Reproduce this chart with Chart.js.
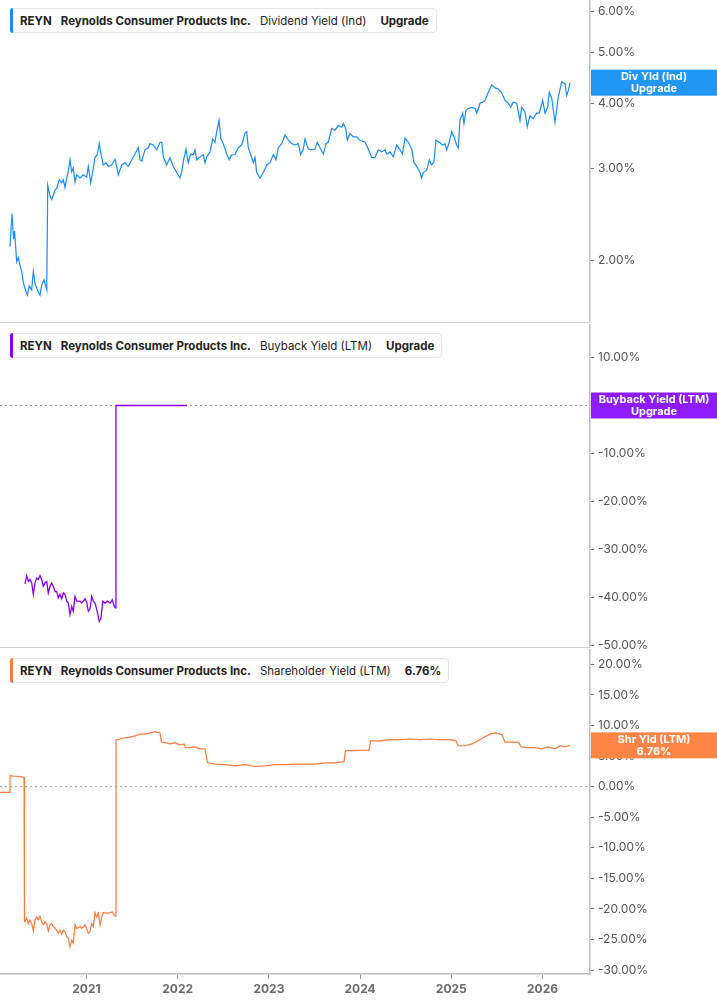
<!DOCTYPE html>
<html>
<head>
<meta charset="utf-8">
<script src="https://cdn.jsdelivr.net/npm/chart.js@4.4.1/dist/chart.umd.min.js"></script>
<style>
html, body { margin: 0; padding: 0; background: #fff; }
body { width: 717px; height: 1005px; position: relative; overflow: hidden; font-family: Inter, "Liberation Sans", sans-serif; }
canvas { position: absolute; left: 0; }
.legend { position: absolute; left: 10px; height: 25px; box-sizing: border-box; border: 1px solid #e6e6e6; border-radius: 4px; background: #fff;
  display: flex; align-items: center; padding: 0 7px 0 9px; font-size: 11.5px; color: #222; white-space: nowrap; z-index: 2; }
.legend .bar { position: absolute; left: -1px; top: -1px; bottom: -1px; width: 3px; border-radius: 3px 0 0 3px; }
.legend .b { font-weight: 700; }
.legend .gap { margin-left: 9px; }
.legend .gap2 { margin-left: 14px; }
</style>
</head>
<body>

<div class="legend" style="top:8px"><div class="bar" style="background:#1a8cff"></div>
  <span class="b">REYN</span><span class="b gap">Reynolds Consumer Products Inc.</span><span class="gap">Dividend Yield (Ind)</span><span class="b gap2">Upgrade</span></div>
<div class="legend" style="top:333px"><div class="bar" style="background:#8800ff"></div>
  <span class="b">REYN</span><span class="b gap">Reynolds Consumer Products Inc.</span><span class="gap">Buyback Yield (LTM)</span><span class="b gap2">Upgrade</span></div>
<div class="legend" style="top:658px"><div class="bar" style="background:#ff7a3d"></div>
  <span class="b">REYN</span><span class="b gap">Reynolds Consumer Products Inc.</span><span class="gap">Shareholder Yield (LTM)</span><span class="b gap2">6.76%</span></div>

<canvas id="divChart" width="717" height="344" style="top:-10px"></canvas>
<canvas id="buyChart" width="717" height="345" style="top:314px"></canvas>
<canvas id="shrChart" width="717" height="366" style="top:639px"></canvas>

<script>
// x values are decimal years
const yearTicks = [2021, 2022, 2023, 2024, 2025, 2026];
const divTicks = [2, 3, 4, 5, 6];
const buyTicks = [10, 0, -10, -20, -30, -40, -50];
const shrTicks = [20, 15, 10, 5, 0, -5, -10, -15, -20, -25, -30];

// Dividend Yield (Ind), %
const divYears = [
  2020.161, 2020.183, 2020.200, 2020.211, 2020.235, 2020.252, 2020.271, 2020.289, 2020.307, 2020.326,
  2020.351, 2020.373, 2020.399, 2020.417, 2020.435, 2020.461, 2020.490, 2020.509, 2020.534, 2020.564,
  2020.575, 2020.600, 2020.618, 2020.636, 2020.655, 2020.673, 2020.702, 2020.728, 2020.746, 2020.764,
  2020.783, 2020.800, 2020.819, 2020.838, 2020.855, 2020.874, 2020.893, 2020.929, 2020.965, 2021.002,
  2021.020, 2021.046, 2021.068, 2021.093, 2021.118, 2021.140, 2021.159, 2021.184, 2021.214, 2021.239,
  2021.276, 2021.313, 2021.349, 2021.386, 2021.422, 2021.458, 2021.496, 2021.532, 2021.568, 2021.587,
  2021.605, 2021.641, 2021.678, 2021.696, 2021.732, 2021.770, 2021.806, 2021.825, 2021.842, 2021.879,
  2021.916, 2021.952, 2021.989, 2022.025, 2022.044, 2022.061, 2022.091, 2022.116, 2022.143, 2022.171,
  2022.190, 2022.208, 2022.245, 2022.281, 2022.299, 2022.318, 2022.354, 2022.384, 2022.409, 2022.428,
  2022.453, 2022.472, 2022.500, 2022.537, 2022.566, 2022.592, 2022.628, 2022.664, 2022.702, 2022.738,
  2022.757, 2022.774, 2022.800, 2022.829, 2022.848, 2022.866, 2022.902, 2022.939, 2022.976, 2023.012,
  2023.048, 2023.078, 2023.103, 2023.140, 2023.177, 2023.213, 2023.250, 2023.286, 2023.322, 2023.349,
  2023.377, 2023.396, 2023.432, 2023.469, 2023.506, 2023.531, 2023.560, 2023.597, 2023.626, 2023.651,
  2023.689, 2023.725, 2023.761, 2023.798, 2023.816, 2023.842, 2023.860, 2023.889, 2023.925, 2023.963,
  2023.999, 2024.054, 2024.090, 2024.127, 2024.163, 2024.200, 2024.237, 2024.273, 2024.292, 2024.328,
  2024.364, 2024.401, 2024.438, 2024.463, 2024.492, 2024.529, 2024.566, 2024.591, 2024.621, 2024.657,
  2024.675, 2024.693, 2024.730, 2024.759, 2024.785, 2024.810, 2024.832, 2024.868, 2024.906, 2024.931,
  2024.950, 2024.978, 2025.004, 2025.030, 2025.059, 2025.077, 2025.095, 2025.125, 2025.139, 2025.161,
  2025.186, 2025.224, 2025.260, 2025.279, 2025.315, 2025.344, 2025.370, 2025.406, 2025.443, 2025.479,
  2025.516, 2025.553, 2025.589, 2025.625, 2025.651, 2025.680, 2025.717, 2025.753, 2025.772, 2025.808,
  2025.833, 2025.863, 2025.899, 2025.936, 2025.965, 2026.002, 2026.028, 2026.057, 2026.075, 2026.101,
  2026.137, 2026.173, 2026.211, 2026.247, 2026.265, 2026.283, 2026.302
];
const divValues = [
  2.13, 2.46, 2.20, 2.28, 1.99, 2.03, 1.96, 1.91, 1.82, 1.77,
  1.72, 1.79, 1.76, 1.91, 1.81, 1.76, 1.72, 1.80, 1.84, 1.76,
  2.79, 2.66, 2.62, 2.67, 2.73, 2.75, 2.86, 2.82, 2.86, 2.76,
  2.88, 2.96, 3.12, 2.96, 3.01, 2.83, 2.92, 2.88, 2.92, 2.89,
  3.03, 2.82, 2.96, 3.15, 3.19, 3.35, 3.20, 3.05, 3.08, 3.03,
  3.05, 3.13, 2.92, 3.05, 3.08, 3.03, 3.12, 3.20, 3.29, 3.12,
  3.10, 3.26, 3.29, 3.35, 3.33, 3.26, 3.37, 3.37, 3.16, 3.05,
  3.15, 3.03, 2.95, 2.88, 2.96, 3.09, 3.27, 3.08, 3.20, 3.19,
  3.26, 3.12, 3.16, 3.19, 3.08, 3.16, 3.23, 3.42, 3.37, 3.53,
  3.71, 3.43, 3.35, 3.20, 3.12, 3.19, 3.19, 3.29, 3.33, 3.51,
  3.53, 3.29, 3.20, 3.08, 3.15, 2.95, 2.88, 2.95, 3.05, 3.08,
  3.19, 3.12, 3.29, 3.35, 3.48, 3.40, 3.35, 3.33, 3.35, 3.19,
  3.27, 3.42, 3.27, 3.26, 3.27, 3.37, 3.29, 3.20, 3.35, 3.37,
  3.58, 3.55, 3.63, 3.60, 3.66, 3.58, 3.40, 3.50, 3.45, 3.45,
  3.40, 3.37, 3.27, 3.15, 3.15, 3.26, 3.23, 3.26, 3.20, 3.23,
  3.16, 3.33, 3.26, 3.20, 3.43, 3.37, 3.27, 3.08, 3.03, 2.95,
  2.88, 2.95, 2.98, 3.12, 3.05, 3.09, 3.40, 3.37, 3.33, 3.35,
  3.26, 3.37, 3.53, 3.45, 3.33, 3.29, 3.71, 3.83, 3.66, 3.88,
  3.91, 3.93, 3.91, 3.83, 4.00, 4.02, 4.05, 4.20, 4.34, 4.28,
  4.26, 4.19, 4.05, 4.00, 3.93, 4.02, 4.00, 3.71, 3.93, 3.85,
  3.61, 3.79, 3.74, 3.83, 3.83, 4.05, 3.83, 3.93, 4.20, 4.09,
  3.68, 4.11, 4.40, 4.36, 4.14, 4.23, 4.38
];

// Buyback Yield (LTM), %
const buyYears = [
  2020.326, 2020.344, 2020.362, 2020.380, 2020.399, 2020.417, 2020.435, 2020.454, 2020.471, 2020.490,
  2020.509, 2020.526, 2020.545, 2020.564, 2020.581, 2020.600, 2020.618, 2020.636, 2020.655, 2020.673,
  2020.691, 2020.709, 2020.728, 2020.746, 2020.764, 2020.783, 2020.800, 2020.819, 2020.838, 2020.855,
  2020.874, 2020.893, 2020.929, 2020.947, 2020.965, 2020.984, 2021.002, 2021.020, 2021.038, 2021.057,
  2021.075, 2021.093, 2021.112, 2021.140, 2021.159, 2021.178, 2021.203, 2021.228, 2021.258, 2021.283,
  2021.305, 2021.316, 2021.323, 2022.102
];
const buyValues = [
  -37.1, -35.4, -36.6, -36.2, -36.9, -39.3, -36.9, -35.9, -36.2, -35.4,
  -36.2, -37.6, -36.9, -36.6, -39.0, -37.6, -36.9, -37.6, -38.7, -38.7,
  -40.0, -39.3, -40.2, -39.0, -39.3, -40.7, -41.1, -43.5, -41.8, -42.8,
  -39.7, -40.7, -40.7, -41.1, -40.7, -40.2, -40.9, -42.8, -42.4, -39.7,
  -40.7, -41.1, -42.4, -44.9, -44.2, -40.7, -41.1, -40.7, -41.1, -40.4,
  -41.8, -42.1, 0, 0
];

// Shareholder Yield (LTM), %
const shrYears = [
  2020.052, 2020.156, 2020.161, 2020.216, 2020.271, 2020.315, 2020.320, 2020.326, 2020.344, 2020.362,
  2020.380, 2020.399, 2020.417, 2020.435, 2020.454, 2020.471, 2020.490, 2020.509, 2020.526, 2020.545,
  2020.564, 2020.581, 2020.600, 2020.618, 2020.636, 2020.655, 2020.673, 2020.691, 2020.709, 2020.728,
  2020.746, 2020.764, 2020.783, 2020.800, 2020.819, 2020.838, 2020.855, 2020.874, 2020.893, 2020.929,
  2020.947, 2020.965, 2020.984, 2021.002, 2021.020, 2021.038, 2021.057, 2021.075, 2021.093, 2021.112,
  2021.130, 2021.149, 2021.167, 2021.184, 2021.222, 2021.258, 2021.283, 2021.313, 2021.323, 2021.367,
  2021.422, 2021.477, 2021.532, 2021.587, 2021.641, 2021.696, 2021.751, 2021.806, 2021.822, 2021.861,
  2021.916, 2021.970, 2022.025, 2022.069, 2022.086, 2022.135, 2022.190, 2022.245, 2022.299, 2022.327,
  2022.409, 2022.519, 2022.628, 2022.738, 2022.848, 2022.957, 2023.067, 2023.177, 2023.286, 2023.396,
  2023.506, 2023.615, 2023.725, 2023.824, 2023.840, 2023.944, 2024.054, 2024.098, 2024.114, 2024.218,
  2024.328, 2024.438, 2024.547, 2024.657, 2024.767, 2024.877, 2024.986, 2025.052, 2025.074, 2025.151,
  2025.227, 2025.293, 2025.359, 2025.425, 2025.490, 2025.556, 2025.589, 2025.666, 2025.742, 2025.764,
  2025.841, 2025.918, 2025.994, 2026.060, 2026.137, 2026.192, 2026.247, 2026.302
];
const shrValues = [
  -0.93, -0.93, 1.79, 1.71, 1.63, 1.52, -22.1, -22.1, -21.5, -22.4,
  -21.8, -22.4, -23.6, -21.8, -21.3, -21.8, -21.2, -22.1, -22.6, -22.1,
  -22.4, -23.6, -22.6, -22.4, -22.9, -23.2, -23.5, -24.0, -23.5, -24.1,
  -23.5, -23.7, -24.5, -24.8, -26.2, -25.1, -25.6, -22.6, -23.2, -22.9,
  -23.2, -22.9, -22.6, -23.2, -24.0, -23.7, -22.4, -22.9, -20.6, -21.3,
  -20.7, -22.6, -21.3, -20.6, -20.7, -20.6, -20.5, -21.2, 7.65, 7.8,
  8.0, 8.1, 8.3, 8.6, 8.6, 8.8, 9.0, 8.8, 7.3, 7.2,
  7.0, 7.2, 6.8, 7.0, 6.4, 6.4, 6.5, 6.2, 6.2, 3.9,
  3.7, 3.6, 3.4, 3.6, 3.3, 3.4, 3.6, 3.6, 3.7, 3.7,
  3.7, 3.9, 3.9, 4.1, 5.9, 5.9, 6.0, 5.9, 7.5, 7.5,
  7.7, 7.7, 7.8, 7.7, 7.8, 7.7, 7.7, 7.5, 6.7, 6.7,
  7.0, 7.5, 8.1, 8.6, 8.8, 8.5, 7.3, 7.3, 7.2, 6.5,
  6.4, 6.4, 6.2, 6.5, 6.2, 6.7, 6.5, 6.76
];

const X_MIN = 2020.0515, X_MAX = 2026.521;

Chart.defaults.font.family = 'Inter, "Liberation Sans", sans-serif';
Chart.defaults.animation = false;

function pts(xs, ys) { return xs.map((x, i) => ({ x: x, y: ys[i] })); }

// coloured value tag on the right axis + panel separator
const tagPlugin = {
  id: 'tag',
  afterDraw(chart, args, opts) {
    const ctx = chart.ctx, area = chart.chartArea;
    ctx.save();
    if (opts.separator) {
      ctx.strokeStyle = '#d4d4d4';
      ctx.lineWidth = 1;
      ctx.beginPath();
      ctx.moveTo(0, Math.round(area.bottom) - 0.5);
      ctx.lineTo(area.right, Math.round(area.bottom) - 0.5);
      ctx.stroke();
    }
    const y = chart.scales.y.getPixelForValue(opts.value);
    const x0 = area.right + 1, w = chart.width - x0, h = 26;
    ctx.fillStyle = opts.color;
    ctx.fillRect(x0, y - h / 2, w, h);
    ctx.fillStyle = '#fff';
    ctx.font = 'bold 11px Inter, "Liberation Sans", sans-serif';
    ctx.textAlign = 'center';
    ctx.textBaseline = 'middle';
    ctx.fillText(opts.lines[0], x0 + w / 2, y - 6);
    ctx.fillText(opts.lines[1], x0 + w / 2, y + 6);
    ctx.restore();
  }
};

function yAxis(type, min, max, ticks) {
  return {
    type: type, position: 'right', min: min, max: max,
    afterFit: s => { s.width = 127; },
    afterBuildTicks: s => { s.ticks = ticks.map(v => ({ value: v })); },
    grid: { drawOnChartArea: false, drawTicks: true, tickLength: 4, color: '#777' },
    border: { color: '#bdbdbd', width: 1.5 },
    ticks: { color: '#555', font: { size: 12 }, padding: 4, autoSkip: false,
      callback: v => Number(v).toFixed(2) + '%' }
  };
}

function xAxis(show) {
  return {
    type: 'linear', min: X_MIN, max: X_MAX, display: show,
    afterBuildTicks: s => { s.ticks = yearTicks.map(v => ({ value: v })); },
    afterFit: s => { s.height = show ? 31 : 0; },
    grid: { drawOnChartArea: false, tickLength: 5, color: '#999' },
    border: { color: '#bdbdbd', width: 1.5 },
    ticks: { color: '#6b6b6b', font: { size: 12, weight: 'bold' }, padding: 3, autoSkip: false, maxRotation: 0,
      callback: v => String(v) }
  };
}

// dotted zero reference line, drawn underneath the series
function zeroLine() {
  return { data: [{ x: X_MIN, y: 0 }, { x: X_MAX, y: 0 }], borderColor: '#9a9a9a', borderWidth: 1,
    borderDash: [2, 3], pointRadius: 0, order: 2 };
}

function baseOptions(pad) {
  return {
    responsive: false, animation: false, parsing: true,
    layout: { padding: pad },
    plugins: { legend: { display: false }, tooltip: { enabled: false } },
    elements: { line: { tension: 0 }, point: { radius: 0 } }
  };
}

// Dividend yield (log scale)
const o1 = baseOptions({ top: 10, bottom: 10, left: 0, right: 0 });
o1.scales = { x: xAxis(false), y: yAxis('logarithmic', 1.523, 6.268, divTicks) };
o1.plugins.tag = { value: divValues[divValues.length - 1], color: '#2196f3', lines: ['Div Yld (Ind)', 'Upgrade'], separator: true };
new Chart(document.getElementById('divChart'), {
  type: 'line',
  data: { datasets: [{ data: pts(divYears, divValues), borderColor: '#1a8cff', borderWidth: 1.2, pointRadius: 0 }] },
  options: o1,
  plugins: [tagPlugin]
});

// Buyback yield
const o2 = baseOptions({ top: 10, bottom: 10, left: 0, right: 0 });
o2.scales = { x: xAxis(false), y: yAxis('linear', -50.4, 16.7, buyTicks) };
o2.plugins.tag = { value: buyValues[buyValues.length - 1], color: '#8f1cff', lines: ['Buyback Yield (LTM)', 'Upgrade'], separator: true };
new Chart(document.getElementById('buyChart'), {
  type: 'line',
  data: { datasets: [
    zeroLine(),
    { data: pts(buyYears, buyValues), borderColor: '#8800ff', borderWidth: 1.3, pointRadius: 0, order: 1 }
  ] },
  options: o2,
  plugins: [tagPlugin]
});

// Shareholder yield
const o3 = baseOptions({ top: 10, bottom: 0, left: 0, right: 0 });
o3.scales = { x: xAxis(true), y: yAxis('linear', -30.65, 22.33, shrTicks) };
o3.plugins.tag = { value: shrValues[shrValues.length - 1], color: '#ff8547', lines: ['Shr Yld (LTM)', '6.76%'], separator: false };
new Chart(document.getElementById('shrChart'), {
  type: 'line',
  data: { datasets: [
    zeroLine(),
    { data: pts(shrYears, shrValues), borderColor: '#ff7a3d', borderWidth: 1.2, pointRadius: 0, order: 1 }
  ] },
  options: o3,
  plugins: [tagPlugin]
});
</script>
</body>
</html>
